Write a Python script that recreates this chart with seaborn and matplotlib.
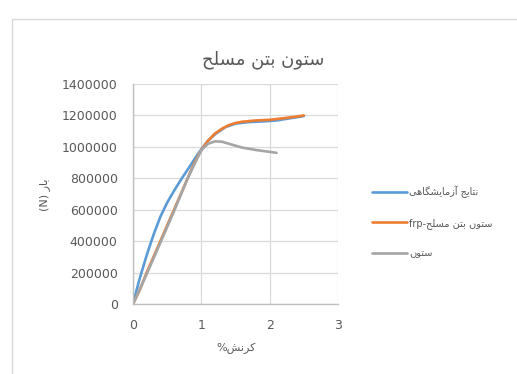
import matplotlib
matplotlib.use("Agg")
import matplotlib.pyplot as plt
import seaborn as sns
import pandas as pd
from matplotlib.patches import Rectangle

# ---------------- data ----------------
title = "ستون بتن مسلح"
x_label = "کرنش%"
y_label = "بار (N)"
series_names = ["نتایج آزمایشگاهی", "ستون بتن مسلح-frp", "ستون"]

x_exp = [0, 0.05, 0.1, 0.2, 0.3, 0.4, 0.5, 0.6, 0.7, 0.8, 0.9, 1.0, 1.1, 1.2, 1.35, 1.5, 1.7, 1.9, 2.1, 2.3, 2.5]
y_exp = [0, 85000, 165000, 310000, 440000, 555000, 645000, 720000, 790000, 855000, 922000, 985000,
         1040000, 1080000, 1125000, 1148000, 1158000, 1162000, 1168000, 1182000, 1196000]

x_frp = [0, 0.1, 0.2, 0.3, 0.4, 0.5, 0.6, 0.7, 0.8, 0.9, 1.0, 1.1, 1.2, 1.3, 1.4, 1.5, 1.6, 1.8, 2.0, 2.2, 2.4, 2.5]
y_frp = [0, 90000, 200000, 300000, 400000, 500000, 600000, 700000, 800000, 900000, 980000,
         1040000, 1085000, 1115000, 1138000, 1152000, 1160000, 1168000, 1172000, 1182000, 1193000, 1200000]

x_col = [0, 0.2, 0.4, 0.6, 0.8, 1.0, 1.1, 1.2, 1.3, 1.4, 1.6, 1.8, 2.0, 2.1]
y_col = [0, 190000, 390000, 590000, 800000, 980000, 1020000, 1035000, 1033000, 1020000, 995000, 980000, 968000, 962000]

x_ticks = [0, 1, 2, 3]
y_ticks = [0, 200000, 400000, 600000, 800000, 1000000, 1200000, 1400000]
colors = ["#5B9BD5", "#ED7D31", "#A5A5A5"]

# ---------------- simple Arabic shaping / bidi ----------------
FORMS = {  # isolated, final, initial, medial
    "ا": ("\uFE8D", "\uFE8E", None, None),
    "آ": ("\uFE81", "\uFE82", None, None),
    "ب": ("\uFE8F", "\uFE90", "\uFE91", "\uFE92"),
    "ت": ("\uFE95", "\uFE96", "\uFE97", "\uFE98"),
    "ج": ("\uFE9D", "\uFE9E", "\uFE9F", "\uFEA0"),
    "ح": ("\uFEA1", "\uFEA2", "\uFEA3", "\uFEA4"),
    "ر": ("\uFEAD", "\uFEAE", None, None),
    "ز": ("\uFEAF", "\uFEB0", None, None),
    "س": ("\uFEB1", "\uFEB2", "\uFEB3", "\uFEB4"),
    "ش": ("\uFEB5", "\uFEB6", "\uFEB7", "\uFEB8"),
    "ل": ("\uFEDD", "\uFEDE", "\uFEDF", "\uFEE0"),
    "م": ("\uFEE1", "\uFEE2", "\uFEE3", "\uFEE4"),
    "ن": ("\uFEE5", "\uFEE6", "\uFEE7", "\uFEE8"),
    "ه": ("\uFEE9", "\uFEEA", "\uFEEB", "\uFEEC"),
    "و": ("\uFEED", "\uFEEE", None, None),
    "ی": ("\uFEEF", "\uFEF0", "\uFEF3", "\uFEF4"),
    "ک": ("\uFB8E", "\uFB8F", "\uFEDB", "\uFEDC"),
    "گ": ("\uFB92", "\uFB93", "\uFB94", "\uFB95"),
}


def dual(c):
    return c in FORMS and FORMS[c][2] is not None


def shape(s):
    out = []
    for i, c in enumerate(s):
        if c not in FORMS:
            out.append(c)
            continue
        prev = s[i - 1] if i > 0 else ""
        nxt = s[i + 1] if i + 1 < len(s) else ""
        jp = dual(prev)
        jn = dual(c) and nxt in FORMS
        iso, fin, ini, med = FORMS[c]
        if jp and jn:
            out.append(med)
        elif jp:
            out.append(fin)
        elif jn:
            out.append(ini)
        else:
            out.append(iso)
    return "".join(out)


def visual(s):
    s = shape(s)
    runs = []
    for c in s:
        ltr = c.isascii() and c.isalnum()
        if runs and runs[-1][0] == ltr:
            runs[-1][1] += c
        else:
            runs.append([ltr, c])
    mirror = {"(": ")", ")": "("}
    res = []
    for ltr, txt in reversed(runs):
        if ltr:
            res.append(txt)
        else:
            res.append("".join(mirror.get(ch, ch) for ch in reversed(txt)))
    return "".join(res)


# ---------------- figure ----------------
sns.set_style("white")
plt.rcParams["font.family"] = ["DejaVu Sans"]

fig = plt.figure(figsize=(5.17, 3.74), dpi=100)
fig.patch.set_facecolor("white")
W, H = 517, 374
ax = fig.add_axes([133 / W, 1 - 304 / H, (338 - 133) / W, (304 - 84) / H])

frames = []
for name, xs, ys in zip(series_names, [x_exp, x_frp, x_col], [y_exp, y_frp, y_col]):
    frames.append(pd.DataFrame({"x": xs, "y": ys, "series": visual(name)}))
df = pd.concat(frames, ignore_index=True)

labels = [visual(n) for n in series_names]
sns.lineplot(data=df, x="x", y="y", hue="series", hue_order=labels,
             palette=dict(zip(labels, colors)), sort=False, estimator=None,
             linewidth=1.9, ax=ax)

ax.set_xlim(0, 3)
ax.set_ylim(0, 1400000)
ax.set_xticks(x_ticks)
ax.set_yticks(y_ticks)
ax.set_xticklabels([str(v) for v in x_ticks])
ax.set_yticklabels([str(v) for v in y_ticks])
ax.tick_params(length=0, labelsize=9, labelcolor="#595959", pad=11)
ax.grid(True, color="#d9d9d9", linewidth=0.9)
ax.set_axisbelow(True)
for side in ["top", "right"]:
    ax.spines[side].set_visible(False)
for side in ["left", "bottom"]:
    ax.spines[side].set_color("#bfbfbf")
    ax.spines[side].set_linewidth(1.0)
ax.set_xlabel("")
ax.set_ylabel("")
ax.patch.set_alpha(0)

sns.move_legend(ax, "upper left", bbox_to_anchor=(367 / W, 1 - 181 / H),
                bbox_transform=fig.transFigure, frameon=False, title=None,
                fontsize=7, labelspacing=2.0, handlelength=3.6, handletextpad=0.2,
                borderpad=0)
for t in ax.get_legend().get_texts():
    t.set_color("#595959")

fig.text(263 / W, 1 - 60 / H, visual(title), ha="center", va="center",
         fontsize=13, color="#595959")
fig.text(45 / W, 1 - 195 / H, visual(y_label), ha="center", va="center",
         rotation=90, fontsize=8, color="#595959")
fig.text(236 / W, 1 - 348 / H, visual(x_label), ha="center", va="center",
         fontsize=8, color="#595959")

# outer chart frame
fig.patches.append(Rectangle((12 / W, -0.05), 1.1, 1 - 19 / H + 0.05,
                             transform=fig.transFigure, fill=False,
                             edgecolor="#d9d9d9", linewidth=1.0, clip_on=False))

fig.savefig("out.png", dpi=100)
